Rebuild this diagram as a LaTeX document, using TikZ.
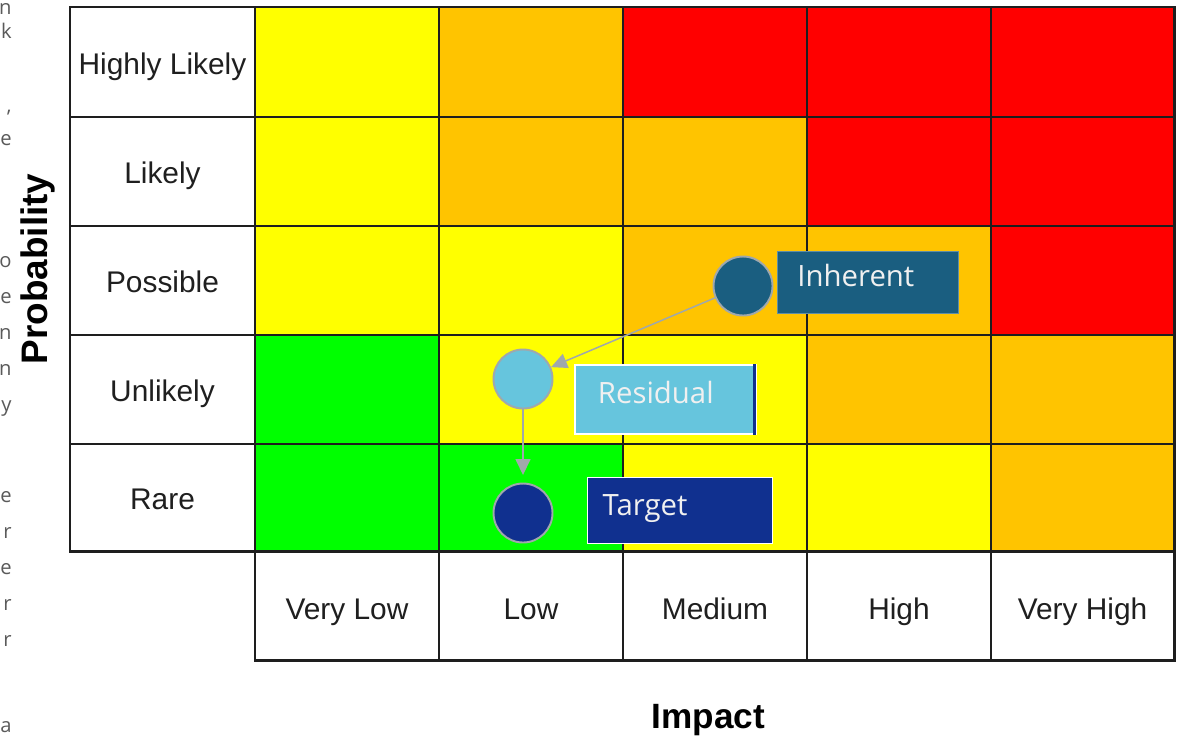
\documentclass[tikz,border=0pt]{standalone}
\usepackage{fontspec}
\setmainfont{Liberation Sans}
\newfontfamily\tagfont{Open Sans}
\usetikzlibrary{arrows.meta}
\definecolor{cellyellow}{RGB}{255,255,0}
\definecolor{cellorange}{RGB}{255,196,0}
\definecolor{cellred}{RGB}{255,0,0}
\definecolor{cellgreen}{RGB}{0,255,0}
\definecolor{inhblue}{RGB}{26,94,128}
\definecolor{resblue}{RGB}{102,197,221}
\definecolor{tarblue}{RGB}{16,48,143}
\definecolor{edgegray}{RGB}{160,168,172}
\definecolor{rulecol}{RGB}{30,30,30}
\definecolor{margintext}{RGB}{90,90,90}
\tikzset{
    thinrule/.style={draw=rulecol, line width=1.1pt},
    thickrule/.style={draw=rulecol, line width=1.7pt},
    levellabel/.style={anchor=base, text=black!88, font=\fontsize{17}{20}\selectfont},
    axislabel/.style={anchor=base, text=black, font=\fontsize{20}{24}\selectfont\bfseries},
    riskdot/.style={circle, draw=edgegray, line width=1.1pt, minimum size=1.18cm, inner sep=0pt},
    risktag/.style={rectangle, text=white!94!black, font=\tagfont\fontsize{16.7}{20}\selectfont,
        minimum height=1.24cm, text height=0.72em, text depth=0.22em, align=left, anchor=north west},
    flow/.style={draw=edgegray, line width=0.85pt, -{Triangle[length=0.32cm, width=0.3cm]}},
    marginletter/.style={anchor=base east, text=margintext, inner sep=0pt, font=\tagfont\fontsize{11.5}{13}\selectfont}
}
\begin{document}
\begin{tikzpicture}[x=0.02cm, y=-0.02cm]
    \useasboundingbox (0,0) rectangle (1182,738);
    % Ends of the cut-off paragraph on the left
    \node[marginletter] (m1) at (12,14) {n};
    \node[marginletter] (m2) at (12,38) {k};
    \node[marginletter] (m3) at (12,112) {,};
    \node[marginletter] (m4) at (12,145) {e};
    \node[marginletter] (m5) at (12,267) {o};
    \node[marginletter] (m6) at (12,303) {e};
    \node[marginletter] (m7) at (12,339) {n};
    \node[marginletter] (m8) at (12,375) {n};
    \node[marginletter] (m9) at (12,411) {y};
    \node[marginletter] (m10) at (12,502) {e};
    \node[marginletter] (m11) at (12,538) {r};
    \node[marginletter] (m12) at (12,574) {e};
    \node[marginletter] (m13) at (12,610) {r};
    \node[marginletter] (m14) at (12,646) {r};
    \node[marginletter] (m15) at (12,732) {a};
    % Colour the cells, top row first
    \fill[cellyellow] (255,7) rectangle (439,117);
    \fill[cellorange] (439,7) rectangle (623,117);
    \fill[cellred] (623,7) rectangle (1174,117);
    \fill[cellyellow] (255,117) rectangle (439,226);
    \fill[cellorange] (439,117) rectangle (807,226);
    \fill[cellred] (807,117) rectangle (1174,226);
    \fill[cellyellow] (255,226) rectangle (623,335);
    \fill[cellorange] (623,226) rectangle (991,335);
    \fill[cellred] (991,226) rectangle (1174,335);
    \fill[cellgreen] (255,335) rectangle (439,444);
    \fill[cellyellow] (439,335) rectangle (807,444);
    \fill[cellorange] (807,335) rectangle (1174,444);
    \fill[cellgreen] (255,444) rectangle (623,551);
    \fill[cellyellow] (623,444) rectangle (991,551);
    \fill[cellorange] (991,444) rectangle (1174,551);
    % Grid lines
    \draw[thinrule] (70,117) -- (1174,117);
    \draw[thinrule] (70,226) -- (1174,226);
    \draw[thinrule] (70,335) -- (1174,335);
    \draw[thinrule] (70,444) -- (1174,444);
    \draw[thinrule] (255,7) -- (255,551);
    \draw[thinrule] (439,7) -- (439,660);
    \draw[thinrule] (623,7) -- (623,660);
    \draw[thinrule] (807,7) -- (807,660);
    \draw[thinrule] (991,7) -- (991,660);
    \draw[thickrule] (70,7) rectangle (1174,551);
    \draw[thickrule] (255,551) rectangle (1174,660);
    % Probability levels
    \node[levellabel] (hl) at (162.5,74) {Highly Likely};
    \node[levellabel] (li) at (162.5,183.5) {Likely};
    \node[levellabel] (po) at (162.5,292.5) {Possible};
    \node[levellabel] (un) at (162.5,401.5) {Unlikely};
    \node[levellabel] (ra) at (162.5,509.5) {Rare};
    % Impact levels
    \node[levellabel] (vl) at (347,619) {Very Low};
    \node[levellabel] (lo) at (531,619) {Low};
    \node[levellabel] (me) at (715,619) {Medium};
    \node[levellabel] (hi) at (899,619) {High};
    \node[levellabel] (vh) at (1082.5,619) {Very High};
    % Axis titles
    \node[axislabel, rotate=90, font=\fontsize{21}{25}\selectfont\bfseries] (prob) at (47,269) {Probability};
    \node[axislabel] (imp) at (708.5,728) {Impact};
    % Risk positions and their tags
    \node[riskdot, fill=inhblue] (inh) at (743,286) {};
    \node[riskdot, fill=resblue] (res) at (523,379) {};
    \node[riskdot, fill=tarblue] (tar) at (523,513) {};
    \node[risktag, fill=inhblue, draw=inhblue!70!white, line width=0.5pt,
        inner xsep=0.4cm, text width=2.82cm] (inhtag) at (777,251) {Inherent};
    \node[risktag, fill=resblue, draw=white, line width=1.1pt, minimum height=1.38cm,
        inner xsep=0.46cm, text width=2.7cm] (restag) at (574,364) {Residual};
    \draw[tarblue, line width=1.6pt] ([xshift=-0.05cm]restag.north east) -- ([xshift=-0.05cm]restag.south east);
    \node[risktag, fill=tarblue, draw=white, line width=0.8pt, minimum height=1.32cm,
        inner xsep=0.3cm, text width=3.1cm] (tartag) at (587,477) {Target};
    % Movement from inherent to target
    \draw[flow] (inh) -- (res);
    \draw[flow, shorten >=0.15cm] (res) -- (tar);
\end{tikzpicture}
\end{document}
